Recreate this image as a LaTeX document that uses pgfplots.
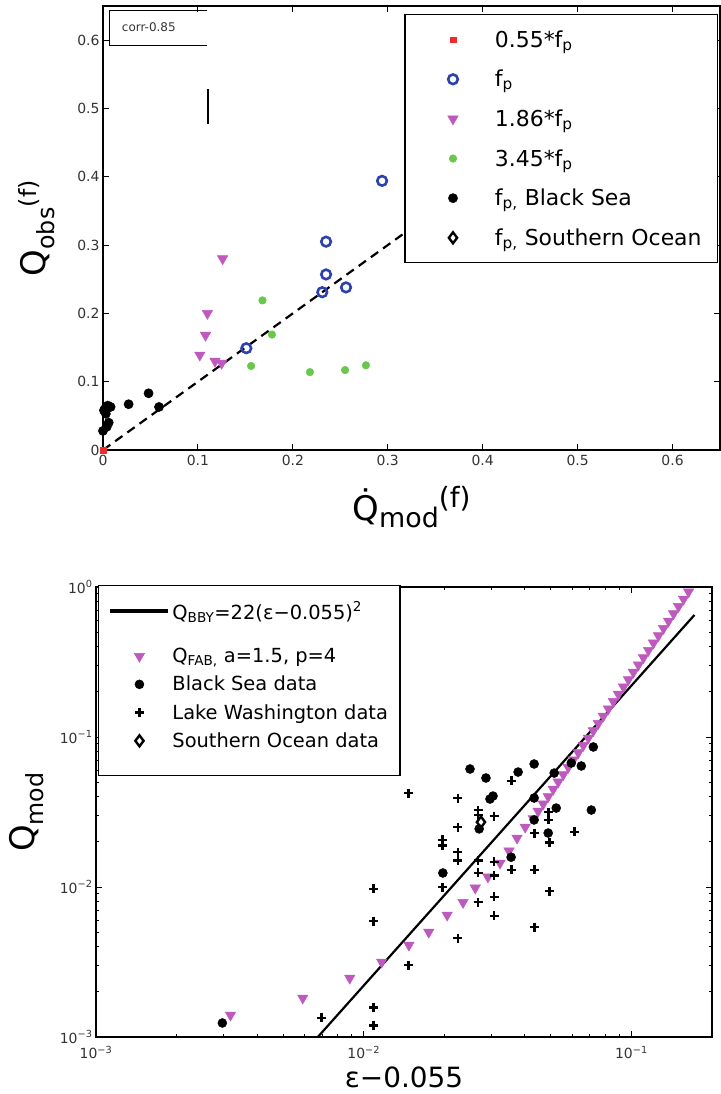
\documentclass[border=0pt]{standalone}
\usepackage{pgfplots}
\pgfplotsset{compat=1.18}
\usepackage{fontspec}
\setmainfont{DejaVu Sans}
\definecolor{mblue}{RGB}{45,65,175}
\definecolor{mmag}{RGB}{190,90,190}
\definecolor{mgreen}{RGB}{105,200,75}
\definecolor{mred}{RGB}{235,45,45}
\newcommand{\fs}[1]{\fontsize{#1}{#1}\selectfont}
\pgfplotsset{
  mlegT/.style={legend image code/.code={\path[draw=none] (0bp,0bp) (74bp,0bp);\draw[##1, only marks] plot coordinates {(34bp,0bp)};}},
  mleg/.style={legend image code/.code={\path[draw=none] (0bp,0bp) (58bp,0bp);\draw[##1, only marks] plot coordinates {(29bp,0bp)};}},
  lineleg/.style={legend image code/.code={\draw[##1, line width=4bp] (0bp,0bp) -- (58bp,0bp); \path[draw=none] (0bp,-27bp);}},
  diamleg/.style={legend image code/.code={\path[draw=none] (0bp,0bp) (58bp,0bp) (0bp,-21bp);\draw[##1, only marks] plot coordinates {(29bp,0bp)};}},
}
\begin{document}
\begin{tikzpicture}
\useasboundingbox (0bp,0bp) rectangle (721bp,1094bp);
% ---------------- top panel ----------------
\begin{axis}[
  at={(103bp,644bp)}, anchor=south west,
  scale only axis, width=617bp, height=444bp,
  xmin=0, xmax=0.65, ymin=0, ymax=0.65,
  xtick={0,0.1,0.2,0.3,0.4,0.5,0.6}, xticklabels={0,0.1,0.2,0.3,0.4,0.5,0.6},
  ytick={0,0.1,0.2,0.3,0.4,0.5,0.6}, yticklabels={0,0.1,0.2,0.3,0.4,0.5,0.6},
  axis line style={line width=1.3bp},
  tick style={line width=0.9bp, black},
  major tick length=6bp,
  tick label style={font=\fs{14}, text=black!80},
  xticklabel style={yshift=-2bp},
  xlabel={\.{Q}\raisebox{-7bp}{\fs{27}mod}\raisebox{13bp}{\fs{28}(f)}},
  ylabel={Q\textsubscript{obs}\textsuperscript{(f)}},
  label style={font=\fs{34}},
  xlabel style={at={(axis description cs:0.5,-0.158)}, anchor=base},
  ylabel style={at={(axis description cs:-0.094,0.5)}, anchor=base},
  legend cell align=left,
  legend style={at={(0.997,0.982)}, anchor=north east, draw=black, line width=1.2bp,
    font=\fs{22}, inner xsep=14bp, inner ysep=14bp, row sep=17.5bp},
]
\addplot[black, line width=2.2bp, dash pattern=on 9bp off 6bp, forget plot] coordinates {(0,0)(0.5,0.5)};
\addplot[black, line width=2.2bp, forget plot] coordinates {(0.111,0.477)(0.111,0.528)};
\addplot[only marks, mlegT, mark=square*, mark size=2.8bp, color=mred, line width=0.5bp] coordinates {(0,0)};
\addlegendentry{0.55*f\textsubscript{p}}
\addplot[only marks, mlegT, mark=o, mark size=4.8bp, line width=2.6bp, color=mblue] coordinates {
(0.294,0.394) (0.235,0.305) (0.235,0.257) (0.231,0.231) (0.256,0.238) (0.151,0.149)};
\addlegendentry{f\textsubscript{p}}
\addplot[only marks, mlegT, mark=triangle*, mark options={rotate=180}, mark size=6bp, color=mmag, line width=0.5bp] coordinates {
(0.126,0.280) (0.110,0.200) (0.108,0.168) (0.102,0.139) (0.118,0.130) (0.125,0.127)};
\addlegendentry{1.86*f\textsubscript{p}}
\addplot[only marks, mlegT, mark=*, mark size=3.8bp, color=mgreen, line width=0.5bp] coordinates {
(0.168,0.219) (0.178,0.169) (0.156,0.123) (0.218,0.114) (0.255,0.117) (0.277,0.124)};
\addlegendentry{3.45*f\textsubscript{p}}
\addplot[only marks, mlegT, mark=*, mark size=4.6bp, color=black, line width=0.5bp] coordinates {
(0.048,0.083) (0.027,0.067) (0.059,0.063) (0.001,0.058) (0.005,0.065) (0.008,0.063)
(0.003,0.053) (0.000,0.028) (0.004,0.034) (0.006,0.040) (0.002,0.060)};
\addlegendentry{f\textsubscript{p,} Black Sea}
\addlegendimage{only marks, mlegT, mark=diamond, mark size=5.5bp, line width=2.4bp, black}
\addlegendentry{f\textsubscript{p,} Southern Ocean}
\draw[line width=0.9bp] (rel axis cs:0.169,0.991) -- (rel axis cs:0.011,0.991) -- (rel axis cs:0.011,0.912) -- (rel axis cs:0.169,0.912);
\node[font=\fs{12}, text=black!80, anchor=west] at (rel axis cs:0.025,0.952) {corr-0.85};
\end{axis}
% ---------------- bottom panel ----------------
\begin{axis}[
  at={(96bp,57bp)}, anchor=south west,
  scale only axis, width=616bp, height=450bp,
  xmode=log, ymode=log,
  xmin=1e-3, xmax=0.2, ymin=1e-3, ymax=1,
  xtick={0.001,0.01,0.1}, xticklabels={10\textsuperscript{−3},10\textsuperscript{−2},10\textsuperscript{−1}},
  ytick={0.001,0.01,0.1,1}, yticklabels={10\textsuperscript{−3},10\textsuperscript{−2},10\textsuperscript{−1},10\textsuperscript{0}},
  minor xtick={0.002,0.003,0.004,0.005,0.006,0.007,0.008,0.009,0.02,0.03,0.04,0.05,0.06,0.07,0.08,0.09,0.2},
  minor ytick={0.002,0.003,0.004,0.005,0.006,0.007,0.008,0.009,0.02,0.03,0.04,0.05,0.06,0.07,0.08,0.09,0.2,0.3,0.4,0.5,0.6,0.7,0.8,0.9},
  axis line style={line width=1.3bp},
  tick style={line width=0.9bp, black},
  major tick length=6bp, minor tick length=3.5bp,
  tick label style={font=\fs{14}, text=black!80},
  xticklabel style={yshift=-6bp},
  xlabel={ε−0.055},
  ylabel={Q\textsubscript{mod}},
  xlabel style={font=\fs{28}, at={(axis description cs:0.5,-0.113)}, anchor=base},
  ylabel style={font=\fs{34}, at={(axis description cs:-0.10,0.5)}, anchor=base},
  legend cell align=left,
  legend style={at={(0.003,1.004)}, anchor=north west, draw=black, line width=1.2bp,
    font=\fs{19.5}, inner xsep=10bp, inner ysep=14bp, row sep=8bp},
]
\addplot[black, line width=2.2bp, lineleg] coordinates {(0.00674,0.001) (0.172,0.651)};
\addlegendentry{Q\textsubscript{BBY}=22(ε−0.055)\textsuperscript{2}}
\addplot[only marks, mleg, mark=triangle*, mark options={rotate=180}, mark size=6bp, color=mmag, line width=0.5bp] coordinates {
(0.00318,0.00140) (0.00592,0.00182) (0.00887,0.00247) (0.01167,0.00316) (0.01475,0.00410)
(0.0175,0.0050) (0.0205,0.0065) (0.0235,0.0079) (0.0261,0.00985) (0.0291,0.01167)
(0.0323,0.01445) (0.0349,0.0174) (0.0374,0.0212) (0.0401,0.0251)
(0.04295,0.02862) (0.04484,0.03202) (0.04682,0.03584) (0.04889,0.04010) (0.05104,0.04486)
(0.05329,0.05019) (0.05566,0.05617) (0.05809,0.06284) (0.06065,0.07031) (0.06333,0.07866)
(0.06613,0.08800) (0.06902,0.09842) (0.07207,0.1101) (0.07524,0.1232) (0.07856,0.1378)
(0.08202,0.1542) (0.08563,0.1725) (0.08941,0.1930) (0.09335,0.2159) (0.09745,0.2415)
(0.1017,0.2703) (0.1062,0.3024) (0.1109,0.3383) (0.1158,0.3785) (0.1209,0.4235)
(0.1262,0.4738) (0.1318,0.5302) (0.1376,0.5931) (0.1437,0.6637) (0.1500,0.7423)
(0.1566,0.8307) (0.1635,0.9292)};
\addlegendentry{Q\textsubscript{FAB,} a=1.5, p=4}
\addplot[only marks, mleg, mark=*, mark size=4.5bp, color=black, line width=0.5bp] coordinates {
(0.02495,0.0612) (0.02862,0.0533) (0.03774,0.0584) (0.04332,0.0661) (0.02963,0.0386)
(0.03041,0.0404) (0.05148,0.0575) (0.05962,0.0671) (0.06497,0.0641) (0.07207,0.0858)
(0.05238,0.0336) (0.07084,0.0326) (0.0270,0.0244) (0.04888,0.0229) (0.03553,0.0158)
(0.01976,0.0124) (0.04332,0.0392) (0.002965,0.00124) (0.04332,0.0280)};
\addlegendentry{Black Sea data}
\addplot[only marks, mleg, mark=+, mark size=4.5bp, color=black, line width=2.8bp] coordinates {
(0.01474,0.0423) (0.02249,0.0392) (0.03553,0.0509) (0.02673,0.0326) (0.02673,0.0302)
(0.03068,0.0297) (0.04888,0.0316) (0.04888,0.0280) (0.06117,0.0233) (0.04332,0.0229)
(0.02249,0.0251) (0.01976,0.0206) (0.01976,0.0188) (0.02249,0.0171) (0.02249,0.0151)
(0.02673,0.0151) (0.03068,0.0147) (0.03553,0.0130) (0.04332,0.0130) (0.02673,0.0124)
(0.03068,0.0120) (0.01976,0.0100) (0.02673,0.00794) (0.03068,0.00858) (0.03068,0.00641)
(0.04931,0.00940) (0.04332,0.00541) (0.01090,0.00970) (0.01090,0.00593) (0.02249,0.00457)
(0.01474,0.00302) (0.01090,0.00158) (0.01090,0.00120) (0.006962,0.00134) (0.04931,0.0197)};
\addlegendentry{Lake Washington data}
\addplot[only marks, diamleg, mark=diamond, mark size=5.5bp, color=black, line width=2.4bp] coordinates {(0.02742,0.0271)};
\addlegendentry{Southern Ocean data}
\end{axis}
\end{tikzpicture}
\end{document}
